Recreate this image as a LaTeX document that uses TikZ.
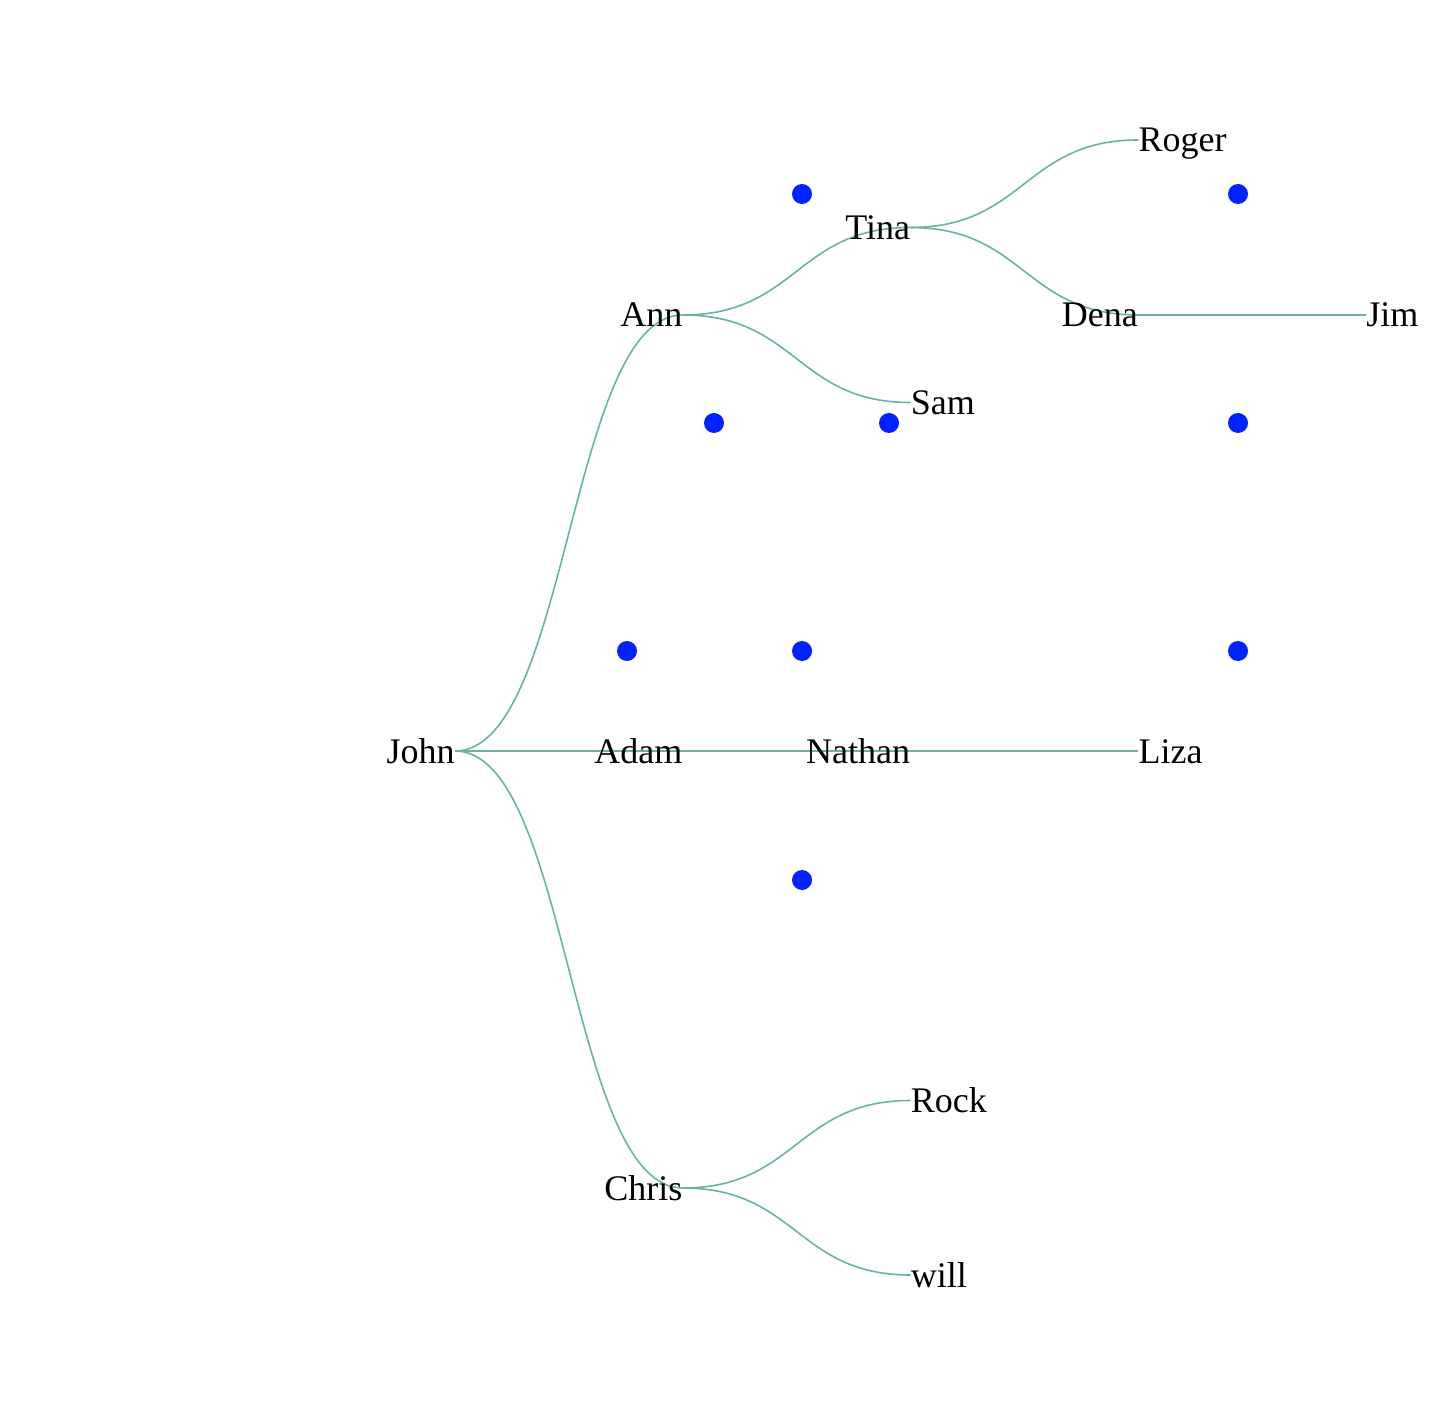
\documentclass[tikz,border=0pt]{standalone}
\usepackage{fontspec}
\setmainfont{Liberation Serif}
\definecolor{linkgreen}{RGB}{105,179,162}
\definecolor{dotblue}{RGB}{0,34,255}
\tikzset{
  link/.style={draw=linkgreen, line width=0.8pt},
  dot/.style={fill=dotblue},
  inner/.style={anchor=base east, inner sep=0pt, font=\fontsize{18}{20}\selectfont},
  leaf/.style={anchor=base west, inner sep=0pt, font=\fontsize{18}{20}\selectfont}
}
\begin{document}
\begin{tikzpicture}[x=0.5pt, y=-0.5pt]
  \useasboundingbox (0,0) rectangle (1456,1422);

  % Points of the tree
  \coordinate (john)   at (455,751);
  \coordinate (ann)    at (682.75,315);
  \coordinate (adam)   at (682.75,751);
  \coordinate (chris)  at (682.75,1188);
  \coordinate (tina)   at (910.5,227.5);
  \coordinate (sam)    at (910.5,402.5);
  \coordinate (nathan) at (910.5,751);
  \coordinate (rock)   at (910.5,1100.5);
  \coordinate (will)   at (910.5,1275);
  \coordinate (roger)  at (1138.25,140);
  \coordinate (dena)   at (1138.25,315);
  \coordinate (liza)   at (1138.25,751);
  \coordinate (jim)    at (1366,315);

  % Blue dots
  \foreach \x/\y in {802/194, 1238/194, 714/423, 889/423, 1238/423,
                     627/651, 802/651, 1238/651, 802/880}
    \fill[dot] (\x,\y) circle (5pt);

  % Links
  \foreach \a/\b in {john/ann, john/adam, john/chris, ann/tina, ann/sam,
                     adam/nathan, chris/rock, chris/will, tina/roger,
                     tina/dena, nathan/liza, dena/jim}
    \draw[link] (\a) .. controls +(113.9,0) and +(-113.9,0) .. (\b);

  % Names
  \node[inner] (john-t)   at ([yshift=-6pt]john)   {John};
  \node[inner] (ann-t)    at ([yshift=-6pt]ann)    {Ann};
  \node[inner] (adam-t)   at ([yshift=-6pt]adam)   {Adam};
  \node[inner] (chris-t)  at ([yshift=-6pt]chris)  {Chris};
  \node[inner] (tina-t)   at ([yshift=-6pt]tina)   {Tina};
  \node[inner] (nathan-t) at ([yshift=-6pt]nathan) {Nathan};
  \node[inner] (dena-t)   at ([yshift=-6pt]dena)   {Dena};
  \node[leaf]  (sam-t)    at ([yshift=-6pt]sam)    {Sam};
  \node[leaf]  (rock-t)   at ([yshift=-6pt]rock)   {Rock};
  \node[leaf]  (will-t)   at ([yshift=-6pt]will)   {will};
  \node[leaf]  (roger-t)  at ([yshift=-6pt]roger)  {Roger};
  \node[leaf]  (liza-t)   at ([yshift=-6pt]liza)   {Liza};
  \node[leaf]  (jim-t)    at ([yshift=-6pt]jim)    {Jim};
\end{tikzpicture}
\end{document}
